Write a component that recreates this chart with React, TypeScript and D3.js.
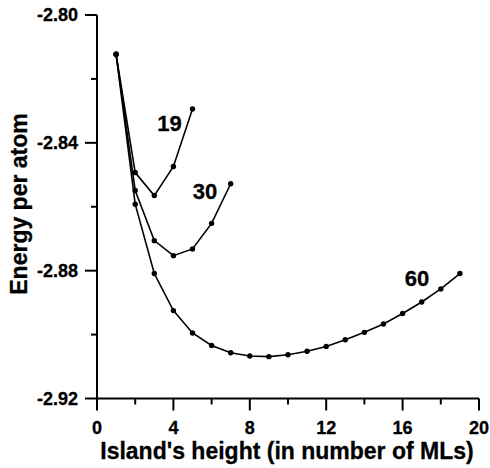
import React from "react";
import * as d3 from "d3";

// Island heights (ML) and energy per atom for each island size
const heights19 = [1, 2, 3, 4, 5];
const energy19 = [-2.8123, -2.8493, -2.8565, -2.8474, -2.8294];

const heights30 = [1, 2, 3, 4, 5, 6, 7];
const energy30 = [-2.8123, -2.8549, -2.8706, -2.8753, -2.8732, -2.8652, -2.8528];

const heights60 = [1, 2, 3, 4, 5, 6, 7, 8, 9, 10, 11, 12, 13, 14, 15, 16, 17, 18, 19];
const energy60 = [
  -2.8123, -2.8592, -2.8809, -2.8925, -2.8995, -2.9034, -2.9057, -2.9067, -2.9069,
  -2.9063, -2.9052, -2.9037, -2.9016, -2.8993, -2.8967, -2.8934, -2.8898, -2.8857, -2.8809,
];

const seriesNames = ["19", "30", "60"];
const xTicks = [0, 4, 8, 12, 16, 20];
const xMinorTicks = [2, 6, 10, 14, 18];
const yTicks = [-2.8, -2.84, -2.88, -2.92];
const yMinorTicks = [-2.82, -2.86, -2.9];

const FONT = "'Liberation Sans', Arial, Helvetica, sans-serif";

export default function App() {
  const x = d3.scaleLinear().domain([0, 20]).range([97, 479]);
  const y = d3.scaleLinear().domain([-2.92, -2.8]).range([398.5, 15]);

  const series = [
    { name: seriesNames[0], xs: heights19, ys: energy19, lx: 3.8, ly: -2.8362 },
    { name: seriesNames[1], xs: heights30, ys: energy30, lx: 5.65, ly: -2.8575 },
    { name: seriesNames[2], xs: heights60, ys: energy60, lx: 16.75, ly: -2.8847 },
  ];

  const line = d3
    .line<[number, number]>()
    .x((d) => x(d[0]))
    .y((d) => y(d[1]));

  const x0 = x(0);
  const yBase = y(-2.92);

  return (
    <svg
      width={490}
      height={468}
      style={{ position: "absolute", left: 0, top: 0, background: "#fff" }}
      fontFamily={FONT}
    >
      {/* axes */}
      <line x1={x0} x2={x(20)} y1={yBase} y2={yBase} stroke="#000" strokeWidth={2} />
      <line x1={x0} x2={x0} y1={y(-2.8)} y2={yBase} stroke="#000" strokeWidth={2} />

      {xTicks.map((t) => (
        <g key={"xt" + t}>
          <line x1={x(t)} x2={x(t)} y1={yBase} y2={yBase + 12} stroke="#000" strokeWidth={2} />
          <text
            x={x(t)}
            y={433.5}
            textAnchor="middle"
            fontSize={18}
            fontWeight="bold"
            stroke="#000"
            strokeWidth={0.3}
          >
            {t}
          </text>
        </g>
      ))}
      {xMinorTicks.map((t) => (
        <line key={"xm" + t} x1={x(t)} x2={x(t)} y1={yBase} y2={yBase + 6} stroke="#000" strokeWidth={2} />
      ))}

      {yTicks.map((t) => (
        <g key={"yt" + t}>
          <line x1={x0 - 12} x2={x0} y1={y(t)} y2={y(t)} stroke="#000" strokeWidth={2} />
          <text
            x={x0 - 19}
            y={y(t)}
            dy="0.36em"
            textAnchor="end"
            fontSize={18}
            fontWeight="bold"
            stroke="#000"
            strokeWidth={0.3}
          >
            {d3.format(".2f")(t).replace("−", "-")}
          </text>
        </g>
      ))}
      {yMinorTicks.map((t) => (
        <line key={"ym" + t} x1={x0 - 6} x2={x0} y1={y(t)} y2={y(t)} stroke="#000" strokeWidth={2} />
      ))}

      {/* axis titles */}
      <text
        x={287}
        y={459}
        textAnchor="middle"
        fontSize={23}
        fontWeight="bold"
        stroke="#000"
        strokeWidth={0.3}
      >
        Island's height (in number of MLs)
      </text>
      <text
        transform="translate(27,204) rotate(-90)"
        textAnchor="middle"
        fontSize={23}
        fontWeight="bold"
        stroke="#000"
        strokeWidth={0.3}
      >
        Energy per atom
      </text>

      {/* series */}
      {series.map((s) => {
        const pts: [number, number][] = s.xs.map((v, i) => [v, s.ys[i]]);
        return (
          <g key={s.name}>
            <path d={line(pts) || ""} fill="none" stroke="#000" strokeWidth={1.6} />
            {pts.map((p, i) => (
              <circle key={i} cx={x(p[0])} cy={y(p[1])} r={2.7} fill="#000" />
            ))}
            <text
              x={x(s.lx)}
              y={y(s.ly)}
              textAnchor="middle"
              fontSize={22}
              fontWeight="bold"
              stroke="#000"
              strokeWidth={0.3}
            >
              {s.name}
            </text>
          </g>
        );
      })}
    </svg>
  );
}
